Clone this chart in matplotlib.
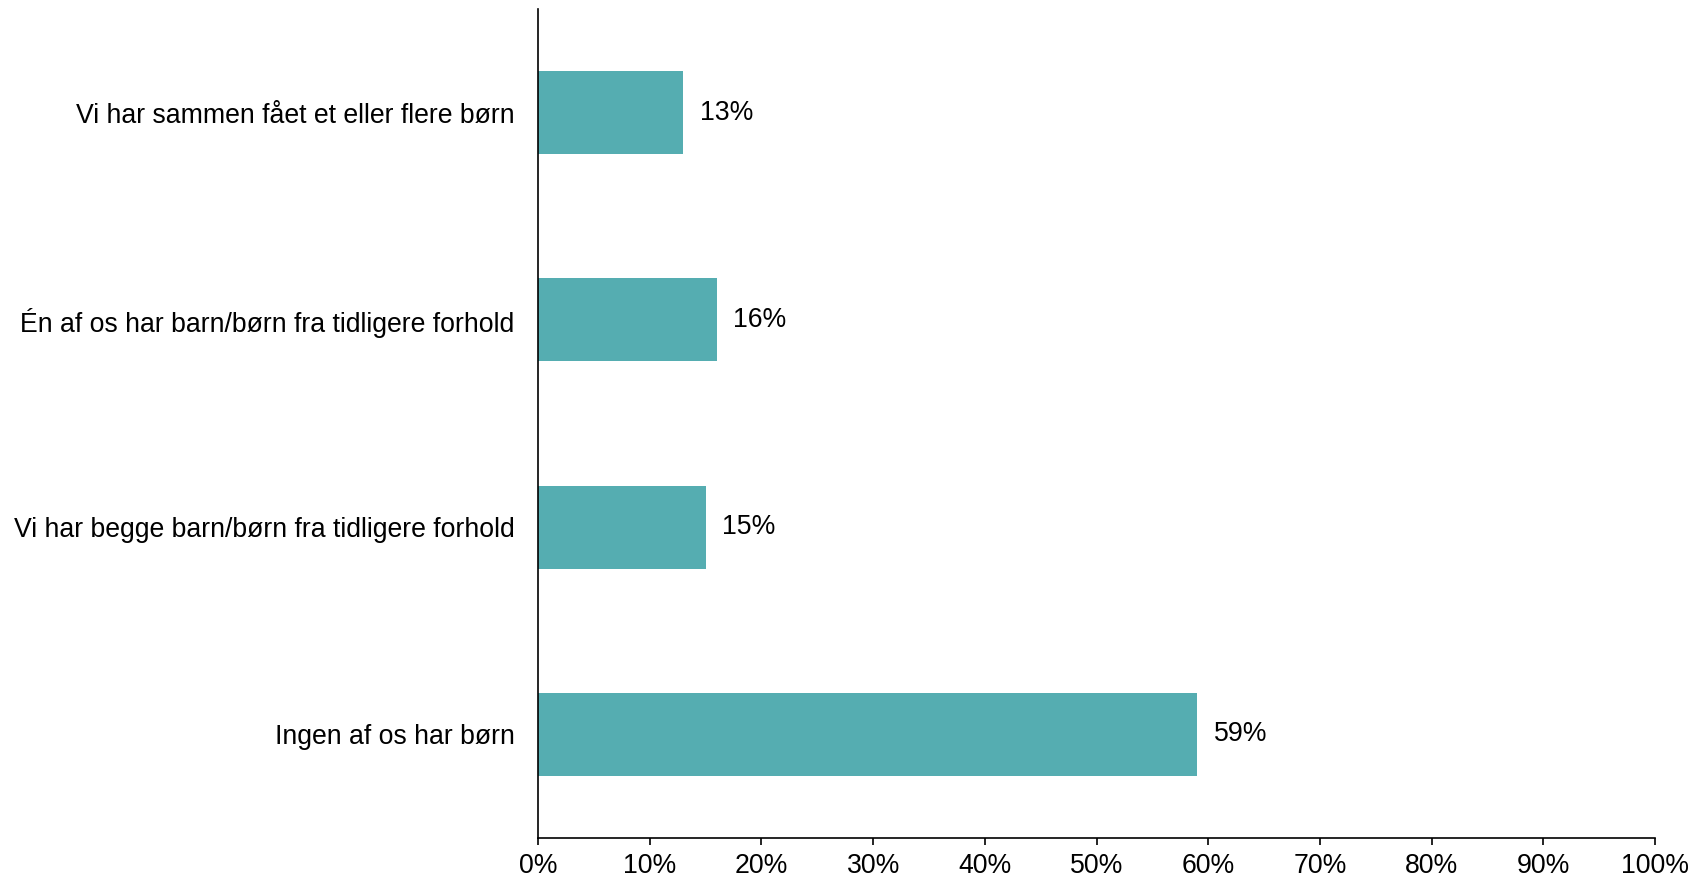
import matplotlib.pyplot as plt
from matplotlib.ticker import PercentFormatter

plt.rcParams['font.family'] = ['Liberation Sans', 'DejaVu Sans']

# data
categories = [
    'Vi har sammen fået et eller flere børn',
    'Én af os har barn/børn fra tidligere forhold',
    'Vi har begge barn/børn fra tidligere forhold',
    'Ingen af os har børn',
]
values = [13, 16, 15, 59]
x_ticks = list(range(0, 101, 10))

bar_color = '#55adb1'
font_size = 19.2

fig = plt.figure(figsize=(17.07, 8.83), dpi=100)
ax = fig.add_axes([0.3152, 0.0510, 0.6544, 0.9388])

pos = list(range(len(categories)))
bars = ax.barh(pos, values, height=0.4, color=bar_color)
ax.bar_label(bars, labels=[f'{v}%' for v in values], padding=12, fontsize=font_size)

ax.set_ylim(len(categories) - 0.5, -0.5)
ax.set_xlim(0, 100)
ax.set_yticks(pos)
ax.set_yticklabels(categories, fontsize=font_size)
ax.set_xticks(x_ticks)
ax.xaxis.set_major_formatter(PercentFormatter(decimals=0))
ax.tick_params(axis='x', labelsize=font_size, length=5, width=1.2, pad=6)
ax.tick_params(axis='y', length=0, pad=17)

for side in ['top', 'right']:
    ax.spines[side].set_visible(False)
for side in ['left', 'bottom']:
    ax.spines[side].set_linewidth(1.2)

fig.savefig('out.png', dpi=100)
